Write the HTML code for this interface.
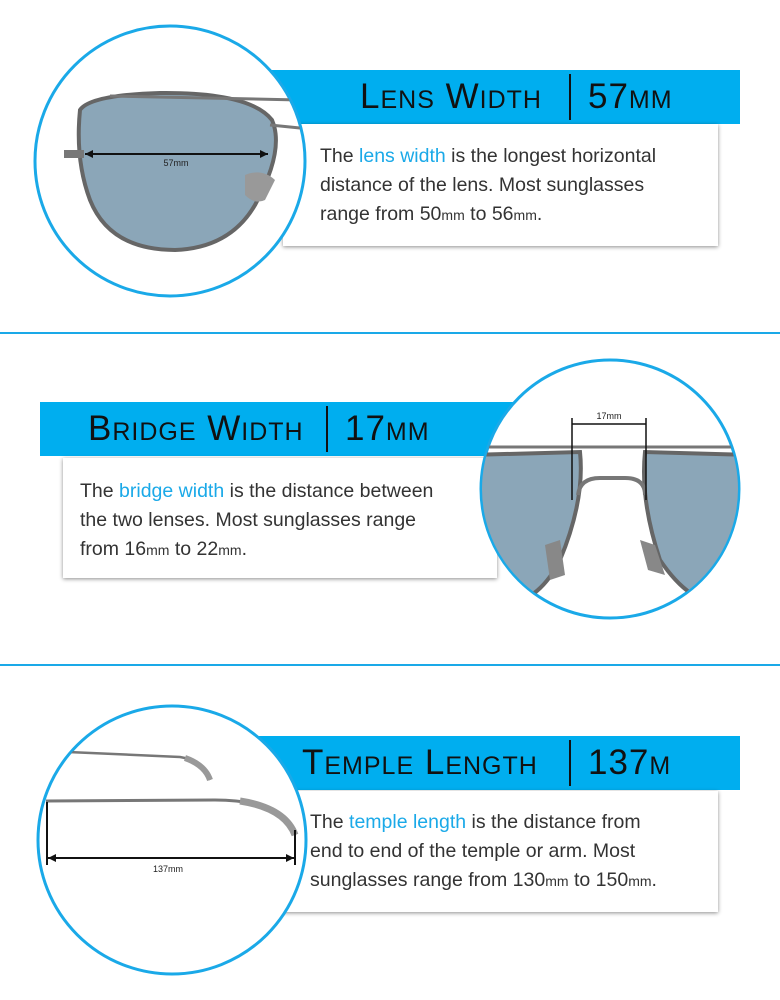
<!DOCTYPE html>
<html><head><meta charset="utf-8"><style>
body{margin:0;width:780px;height:1000px;background:#fff;position:relative;overflow:hidden;font-family:"Liberation Sans",sans-serif;}
.banner{position:absolute;background:#00aeef;height:54px;}
.title{position:absolute;font-variant:small-caps;font-size:35px;color:#111;letter-spacing:1px;line-height:54px;top:0;white-space:nowrap;}
.div{position:absolute;top:4px;width:2px;height:46px;background:#111;}
.box{position:absolute;background:#fff;box-shadow:0 1px 4px rgba(0,0,0,.45);}
.txt{position:absolute;font-size:19.5px;line-height:29px;color:#333;white-space:nowrap;}
.txt span.b{color:#1aa9e8;}
.sm{font-size:14px;}
.hr{position:absolute;left:0;width:780px;height:2px;background:#1aa9e8;}
svg{position:absolute;left:0;top:0;}
</style></head><body>
<div class="banner" style="left:255px;top:70px;width:485px;">
 <div class="title" style="left:105px">Lens Width</div><div class="div" style="left:314px"></div><div class="title" style="left:333px">57mm</div></div>
<div class="box" style="left:283px;top:124px;width:435px;height:122px;"></div>
<div class="txt" style="left:320px;top:142px;">The <span class="b">lens width</span> is the longest horizontal<br>distance of the lens. Most sunglasses<br>range from 50<span class="sm">mm</span> to 56<span class="sm">mm</span>.</div>
<div class="hr" style="top:332px"></div>

<div class="banner" style="left:40px;top:402px;width:485px;">
 <div class="title" style="left:48px">Bridge Width</div><div class="div" style="left:286px"></div><div class="title" style="left:305px">17mm</div></div>
<div class="box" style="left:63px;top:458px;width:434px;height:120px;"></div>
<div class="txt" style="left:80px;top:477px;">The <span class="b">bridge width</span> is the distance between<br>the two lenses. Most sunglasses range<br>from 16<span class="sm">mm</span> to 22<span class="sm">mm</span>.</div>
<div class="hr" style="top:664px"></div>

<div class="banner" style="left:255px;top:736px;width:485px;">
 <div class="title" style="left:47px">Temple Length</div><div class="div" style="left:314px"></div><div class="title" style="left:333px">137m</div></div>
<div class="box" style="left:283px;top:791px;width:435px;height:121px;"></div>
<div class="txt" style="left:310px;top:808px;">The <span class="b">temple length</span> is the distance from<br>end to end of the temple or arm. Most<br>sunglasses range from 130<span class="sm">mm</span> to 150<span class="sm">mm</span>.</div>

<svg width="780" height="1000">
 <defs>
  <clipPath id="c1"><circle cx="170" cy="161" r="134"/></clipPath>
  <clipPath id="c2"><circle cx="610" cy="489" r="128"/></clipPath>
  <clipPath id="c3"><circle cx="172" cy="840" r="133"/></clipPath>
 </defs>
 <!-- circle 1 -->
 <circle cx="170" cy="161" r="135" fill="#fff" stroke="#1aa9e8" stroke-width="3"/>
 <g clip-path="url(#c1)">
  <path d="M80 110 Q90 95 160 93 Q250 92 272 120 Q285 150 255 205 Q230 248 175 250 Q110 250 90 200 Q75 160 80 110Z" fill="#8ba6b8" stroke="#666" stroke-width="4"/>
  <path d="M110 96 L300 100" stroke="#777" stroke-width="3" fill="none"/>
  <path d="M270 125 L300 128" stroke="#777" stroke-width="3"/>
  <rect x="64" y="150" width="20" height="8" fill="#777"/>
  <path d="M245 175 Q262 168 275 180 L265 200 Q255 205 245 195Z" fill="#999"/>
  <line x1="85" y1="154" x2="268" y2="154" stroke="#111" stroke-width="2"/>
  <polygon points="85,154 93,150 93,158" fill="#111"/><polygon points="268,154 260,150 260,158" fill="#111"/>
  <text x="176" y="166" font-size="9" text-anchor="middle" fill="#222" font-family="Liberation Sans">57mm</text>
 </g>
 <!-- circle 2 -->
 <circle cx="610" cy="489" r="129" fill="#fff" stroke="#1aa9e8" stroke-width="3"/>
 <g clip-path="url(#c2)">
  <path d="M470 455 L580 452 Q585 500 560 560 Q530 620 470 600Z" fill="#8ba6b8" stroke="#666" stroke-width="4"/>
  <path d="M750 455 L645 452 Q640 500 660 560 Q700 620 750 600Z" fill="#8ba6b8" stroke="#666" stroke-width="4"/>
  <line x1="470" y1="447" x2="750" y2="447" stroke="#777" stroke-width="3"/>
  <path d="M578 495 Q580 478 600 478 L625 478 Q645 478 645 495" fill="none" stroke="#777" stroke-width="4"/>
  <path d="M545 545 L560 540 L565 575 L550 580Z" fill="#888"/>
  <path d="M640 540 L655 545 L665 575 L648 570Z" fill="#888"/>
  <line x1="572" y1="418" x2="572" y2="500" stroke="#111" stroke-width="1.5"/>
  <line x1="646" y1="418" x2="646" y2="500" stroke="#111" stroke-width="1.5"/>
  <line x1="572" y1="424" x2="646" y2="424" stroke="#111" stroke-width="1.5"/>
  <text x="609" y="419" font-size="9" text-anchor="middle" fill="#222" font-family="Liberation Sans">17mm</text>
 </g>
 <!-- circle 3 -->
 <circle cx="172" cy="840" r="134" fill="#fff" stroke="#1aa9e8" stroke-width="3"/>
 <g clip-path="url(#c3)">
  <path d="M68 752 L180 757 Q200 760 210 780" fill="none" stroke="#777" stroke-width="2.5"/>
  <path d="M185 758 Q205 765 210 780" fill="none" stroke="#999" stroke-width="6"/>
  <path d="M46 801 L215 800 Q240 800 260 805 Q290 815 295 835" fill="none" stroke="#777" stroke-width="3"/>
  <path d="M240 801 Q285 808 295 835" fill="none" stroke="#999" stroke-width="7"/>
  <line x1="47" y1="802" x2="47" y2="865" stroke="#111" stroke-width="2"/>
  <line x1="295" y1="830" x2="295" y2="865" stroke="#111" stroke-width="2"/>
  <line x1="48" y1="858" x2="294" y2="858" stroke="#111" stroke-width="2"/>
  <polygon points="48,858 56,854 56,862" fill="#111"/><polygon points="294,858 286,854 286,862" fill="#111"/>
  <text x="168" y="872" font-size="9" text-anchor="middle" fill="#222" font-family="Liberation Sans">137mm</text>
 </g>
</svg>
</body></html>
